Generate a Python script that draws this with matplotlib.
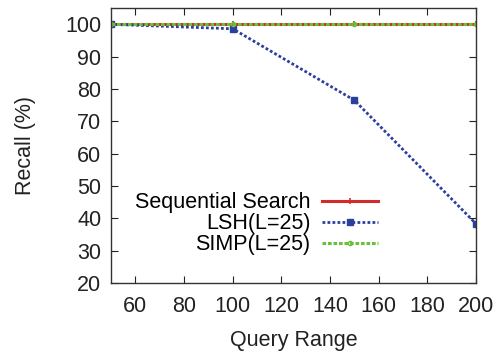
import matplotlib
matplotlib.use("Agg")
import matplotlib.pyplot as plt

query_range = [50, 100, 150, 200]
seq_recall = [100, 100, 100, 100]
lsh_recall = [100, 98.6, 76.5, 38.3]
simp_recall = [100, 100, 100, 100]

plt.rcParams['font.family'] = ['Liberation Sans', 'DejaVu Sans']
FS = 15.5

fig = plt.figure(figsize=(4.98, 3.52), dpi=100)
ax = fig.add_axes([0.223, 0.196, 0.733, 0.781])

ax.plot(query_range, seq_recall, color='#d42a2a', lw=2.2, marker='+',
        ms=5, mew=1.2, label='Sequential Search')
ax.plot(query_range, lsh_recall, color='#2b3f9e', lw=2.0, ls=(0, (1, 0.8)),
        marker='s', ms=4.5, label='LSH(L=25)')
ax.plot(query_range, simp_recall, color='#6cbf3a', lw=2.2, ls=(0, (1.2, 0.6)),
        marker='o', ms=3, mfc='none', label='SIMP(L=25)')

ax.set_xlim(50, 200)
ax.set_ylim(20, 105)
ax.set_xticks(range(60, 201, 20))
ax.set_yticks(range(20, 101, 10))
ax.tick_params(direction='in', top=True, right=True, length=5,
               labelsize=FS, colors='#222222')
ax.tick_params(axis='x', pad=9)
ax.tick_params(axis='y', pad=7)
for s in ax.spines.values():
    s.set_color('#333333')
    s.set_linewidth(1.0)

ax.set_xlabel('Query Range', fontsize=FS, color='#222222', labelpad=10)
ax.set_ylabel('Recall (%)', fontsize=FS, color='#222222', labelpad=21)

ax.legend(loc='upper right', bbox_to_anchor=(0.762, 0.37), frameon=False,
          markerfirst=False, fontsize=FS, handlelength=2.6,
          labelspacing=0.0, handletextpad=0.55, borderpad=0)

fig.savefig('out.png', dpi=100)
